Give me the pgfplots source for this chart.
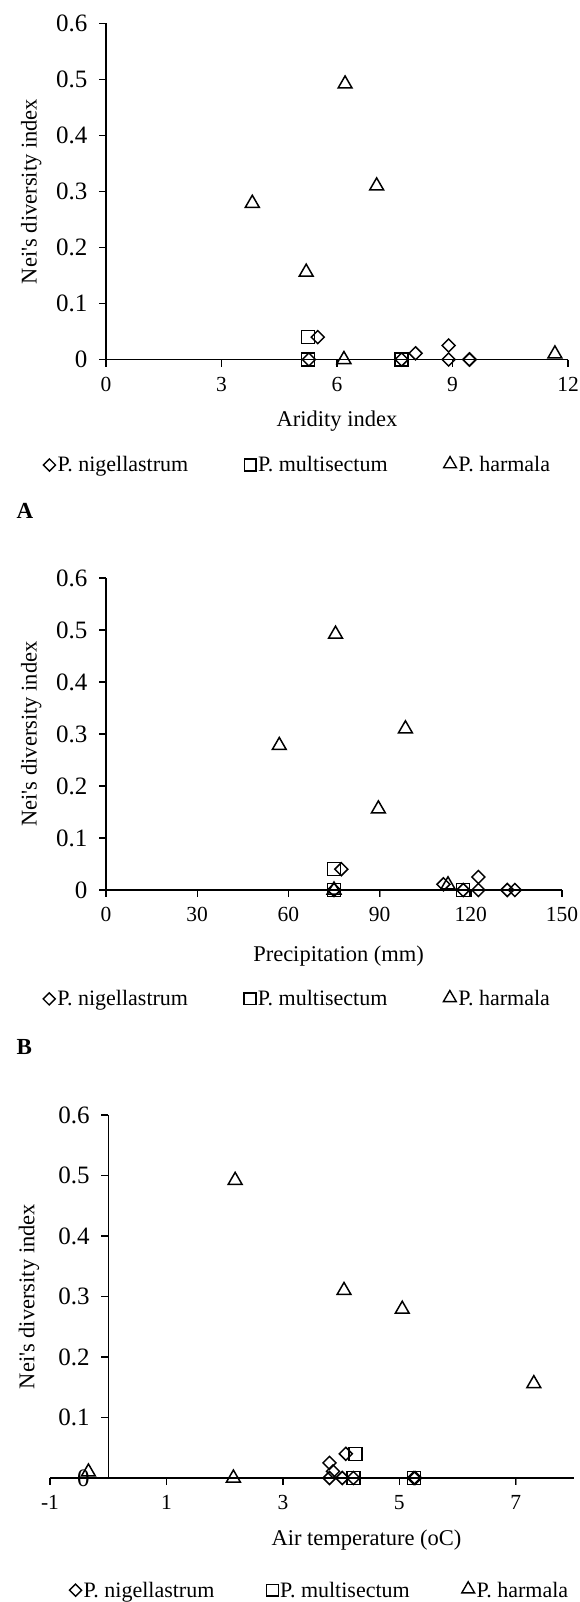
\documentclass[border=0pt]{standalone}
\usepackage{fontspec}
\setmainfont{Liberation Serif}
\usepackage{pgfplots}
\pgfplotsset{compat=1.18}

\pgfplotsset{
  neibase/.style={
    scale only axis, clip=false,
    ymin=0, ymax=0.6, ytick={0,0.1,0.2,0.3,0.4,0.5,0.6},
    scaled y ticks=false, scaled x ticks=false,
    /pgf/number format/assume math mode=true,
    y tick label style={font=\fontsize{25}{28}\selectfont, xshift=-8pt, /pgf/number format/.cd, fixed, precision=1, /tikz/.cd},
    x tick label style={font=\fontsize{21.5}{24}\selectfont, yshift=-7pt},
    legend style={draw=none, fill=none, font=\fontsize{22}{26}\selectfont,
      legend columns=3, anchor=center, inner sep=0pt,
      /tikz/every even column/.append style={column sep=54pt}},
  },
  linefix/.style={
    axis line style={-, line width=1.4pt, black},
    tick align=outside, major tick length=7pt,
  },
  nig/.style={only marks, line width=1.5pt, mark=square, mark size=4.6pt, mark options={rotate=45},
    legend image code/.code={\draw[line width=1.4pt, mark=square, mark size=4.3pt, mark options={rotate=45}] plot coordinates {(6pt,0pt)};}},
  mul/.style={only marks, line width=1.5pt, mark=square, mark size=6.5pt,
    legend image code/.code={\draw[line width=1.4pt, mark=square, mark size=5.9pt] plot coordinates {(6pt,0pt)};}},
  har/.style={only marks, line width=1.5pt, mark=triangle, mark size=8pt,
    legend image code/.code={\draw[line width=1.4pt, mark=triangle, mark size=7.4pt] plot coordinates {(6pt,1pt)};}},
}

\begin{document}
\begin{tikzpicture}[x=1pt, y=1pt]
\path[use as bounding box] (0,0) rectangle (580,-1602);

% ---------------- Panel A ----------------
\begin{axis}[neibase,
  at={(106pt,-359.5pt)}, anchor=south west,
  width=462pt, height=336pt,
  axis x line=bottom, axis y line=left, linefix,
  xmin=0, xmax=12, xtick={0,3,6,9,12},
  every axis y label/.style={at={(axis description cs:-0.162,0.5)}, anchor=center, rotate=90, font=\fontsize{22.5}{26}\selectfont},
  every axis x label/.style={at={(axis description cs:0.5,-0.183)}, anchor=center, font=\fontsize{22.5}{26}\selectfont},
  ylabel={Nei\textquotesingle s diversity index},
  xlabel={Aridity index},
  legend style={at={(0.415,-0.314)}},
]
\pgfplotsinvokeforeach{0,3,6,9,12}{\draw[line width=1.4pt] (axis cs:#1,0) -- ++(0pt,-7pt);}
\pgfplotsinvokeforeach{0,0.1,0.2,0.3,0.4,0.5,0.6}{\draw[line width=1.4pt] (axis cs:0,#1) -- ++(-7pt,0pt);}
\addplot[nig] coordinates {(5.5,0.04) (5.27,0) (7.68,0) (8.04,0.011) (8.9,0.025) (8.9,0) (9.44,0) (9.44,0)};
\addlegendentry{P. nigellastrum}
\addplot[mul] coordinates {(5.25,0.04) (5.25,0) (7.68,0)};
\addlegendentry{P. multisectum}
\addplot[har] coordinates {(3.8,0.279) (5.2,0.156) (6.21,0.492) (7.03,0.31) (6.18,0) (11.66,0.01)};
\addlegendentry{P. harmala}
\end{axis}
\node[anchor=west, font=\bfseries\fontsize{23}{26}\selectfont] at (13,-511) {A};

% ---------------- Panel B ----------------
\begin{axis}[neibase,
  at={(106pt,-890pt)}, anchor=south west,
  width=456pt, height=312pt,
  axis x line=bottom, axis y line=left, linefix,
  xmin=0, xmax=150, xtick={0,30,60,90,120,150},
  every axis y label/.style={at={(axis description cs:-0.164,0.5)}, anchor=center, rotate=90, font=\fontsize{22.5}{26}\selectfont},
  every axis x label/.style={at={(axis description cs:0.51,-0.2115)}, anchor=center, font=\fontsize{22.5}{26}\selectfont},
  ylabel={Nei\textquotesingle s diversity index},
  xlabel={Precipitation (mm)},
  legend style={at={(0.42,-0.349)}},
]
\pgfplotsinvokeforeach{0,30,60,90,120,150}{\draw[line width=1.4pt] (axis cs:#1,0) -- ++(0pt,-7pt);}
\pgfplotsinvokeforeach{0,0.1,0.2,0.3,0.4,0.5,0.6}{\draw[line width=1.4pt] (axis cs:0,#1) -- ++(-7pt,0pt);}
\addplot[nig] coordinates {(77.4,0.04) (75,0) (117.5,0) (111,0.011) (122.5,0.025) (122.5,0) (132,0) (134.5,0)};
\addlegendentry{P. nigellastrum}
\addplot[mul] coordinates {(75,0.04) (75,0) (117.5,0)};
\addlegendentry{P. multisectum}
\addplot[har] coordinates {(57,0.278) (75.5,0.492) (98.5,0.31) (89.6,0.156) (75,0) (112.5,0.01)};
\addlegendentry{P. harmala}
\end{axis}
\node[anchor=west, font=\bfseries\fontsize{23}{26}\selectfont] at (13,-1047) {B};

% ---------------- Panel C ----------------
\begin{axis}[neibase,
  at={(50pt,-1478pt)}, anchor=south west,
  width=524pt, height=363pt,
  axis x line=bottom, axis y line=middle, linefix,
  hide obscured x ticks=false, hide obscured y ticks=false,
  xmin=-1, xmax=8, xtick={-1,1,3,5,7},
  every axis y label/.style={at={(axis description cs:-0.04,0.5)}, anchor=center, rotate=90, font=\fontsize{22.5}{26}\selectfont},
  every axis x label/.style={at={(axis description cs:0.604,-0.171)}, anchor=center, font=\fontsize{22.5}{26}\selectfont},
  ylabel={Nei\textquotesingle s diversity index},
  xlabel={Air temperature (oC)},
  legend style={at={(0.515,-0.309)}, /tikz/every even column/.append style={column sep=50pt}},
]
\pgfplotsinvokeforeach{-1,1,3,5,7}{\draw[line width=1.4pt] (axis cs:#1,0) -- ++(0pt,-7pt);}
\pgfplotsinvokeforeach{0,0.1,0.2,0.3,0.4,0.5,0.6}{\draw[line width=1.4pt] (axis cs:0,#1) -- ++(-7pt,0pt);}
\addplot[nig] coordinates {(4.08,0.04) (3.8,0.025) (3.86,0.011) (3.8,0) (4.02,0) (4.21,0) (5.25,0) (5.27,0)};
\addlegendentry{P. nigellastrum}
\addplot[mul] coordinates {(4.25,0.04) (4.21,0) (5.25,0)};
\addlegendentry{P. multisectum}
\addplot[har] coordinates {(2.18,0.492) (4.05,0.31) (5.05,0.279) (7.31,0.156) (2.15,0) (-0.34,0.01)};
\addlegendentry{P. harmala}
\end{axis}
\end{tikzpicture}
\end{document}
